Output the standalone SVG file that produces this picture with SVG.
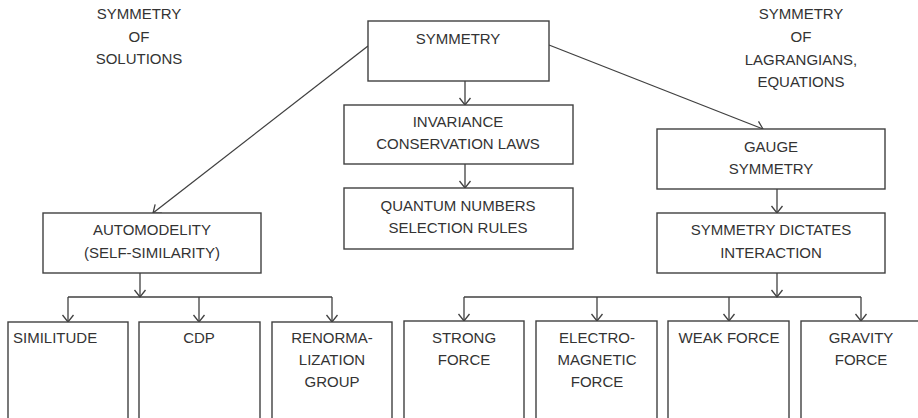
<svg xmlns="http://www.w3.org/2000/svg" width="918" height="418" viewBox="0 0 918 418">
<defs>
<marker id="arr" markerUnits="userSpaceOnUse" markerWidth="16" markerHeight="16" viewBox="-10 -8 12 16" refX="0" refY="0" orient="auto">
<path d="M-7,-5.5 L0,0 L-7,5.5" fill="none" stroke="#404040" stroke-width="1.3"/>
</marker>
</defs>
<style>
.box{fill:#fff;stroke:#404040;stroke-width:1.4}
.t{font-family:"Liberation Sans",Arial,sans-serif;font-size:15px;fill:#333;text-anchor:middle}
.l{text-anchor:start}
.c{fill:none;stroke:#404040;stroke-width:1.3}
.a{marker-end:url(#arr)}
</style>
<rect width="918" height="418" fill="#fff"/>
<g id="label-solutions">
<text class="t" x="139" y="19">SYMMETRY</text>
<text class="t" x="139" y="42">OF</text>
<text class="t" x="139" y="64">SOLUTIONS</text>
</g>
<g id="label-lagrangians">
<text class="t" x="801" y="19">SYMMETRY</text>
<text class="t" x="801" y="42">OF</text>
<text class="t" x="801" y="65">LAGRANGIANS,</text>
<text class="t" x="801" y="87">EQUATIONS</text>
</g>
<g id="connectors">
<line class="c a" x1="368" y1="46" x2="153" y2="213"/>
<line class="c a" x1="549" y1="45" x2="763" y2="129"/>
<line class="c a" x1="465" y1="81" x2="465" y2="105"/>
<line class="c a" x1="465" y1="164" x2="465" y2="188"/>
<line class="c a" x1="777" y1="189" x2="777" y2="213"/>
<line class="c a" x1="777" y1="273" x2="777" y2="297"/>
<polyline class="c" points="464,297 861,297"/>
<line class="c a" x1="464" y1="297" x2="464" y2="321"/>
<line class="c a" x1="597" y1="297" x2="597" y2="321"/>
<line class="c a" x1="729" y1="297" x2="729" y2="321"/>
<line class="c a" x1="861" y1="297" x2="861" y2="321"/>
<line class="c a" x1="140" y1="273" x2="140" y2="297"/>
<polyline class="c" points="68,297 332,297"/>
<line class="c a" x1="68" y1="297" x2="68" y2="322"/>
<line class="c a" x1="199" y1="297" x2="199" y2="322"/>
<line class="c a" x1="332" y1="297" x2="332" y2="322"/>
</g>
<g id="symmetry">
<rect class="box" x="368" y="21" width="181" height="60"/>
<text class="t" x="458" y="44">SYMMETRY</text>
</g>
<g id="invariance">
<rect class="box" x="344" y="105" width="229" height="59"/>
<text class="t" x="458" y="127">INVARIANCE</text>
<text class="t" x="458" y="149">CONSERVATION LAWS</text>
</g>
<g id="quantum">
<rect class="box" x="344" y="188" width="229" height="61"/>
<text class="t" x="458" y="211">QUANTUM NUMBERS</text>
<text class="t" x="458" y="233">SELECTION RULES</text>
</g>
<g id="gauge">
<rect class="box" x="657" y="129" width="228" height="60"/>
<text class="t" x="771" y="152">GAUGE</text>
<text class="t" x="771" y="174">SYMMETRY</text>
</g>
<g id="dictates">
<rect class="box" x="657" y="213" width="228" height="60"/>
<text class="t" x="771" y="235">SYMMETRY DICTATES</text>
<text class="t" x="771" y="258">INTERACTION</text>
</g>
<g id="automodelity">
<rect class="box" x="43" y="213" width="218" height="60"/>
<text class="t" x="152" y="235">AUTOMODELITY</text>
<text class="t" x="152" y="258">(SELF-SIMILARITY)</text>
</g>
<g id="similitude">
<rect class="box" x="8" y="322" width="120" height="100"/>
<text class="t l" x="13" y="343">SIMILITUDE</text>
</g>
<g id="cdp">
<rect class="box" x="139" y="322" width="121" height="100"/>
<text class="t" x="199" y="343">CDP</text>
</g>
<g id="renorm">
<rect class="box" x="272" y="322" width="120" height="100"/>
<text class="t" x="332" y="343">RENORMA-</text>
<text class="t" x="332" y="365">LIZATION</text>
<text class="t" x="332" y="387">GROUP</text>
</g>
<g id="strong">
<rect class="box" x="404" y="321" width="120" height="100"/>
<text class="t" x="464" y="343">STRONG</text>
<text class="t" x="464" y="365">FORCE</text>
</g>
<g id="electro">
<rect class="box" x="536" y="321" width="121" height="100"/>
<text class="t" x="597" y="343">ELECTRO-</text>
<text class="t" x="597" y="365">MAGNETIC</text>
<text class="t" x="597" y="387">FORCE</text>
</g>
<g id="weak">
<rect class="box" x="668" y="321" width="121" height="100"/>
<text class="t" x="729" y="343">WEAK FORCE</text>
</g>
<g id="gravity">
<rect class="box" x="801" y="321" width="121" height="100"/>
<text class="t" x="861" y="343">GRAVITY</text>
<text class="t" x="861" y="365">FORCE</text>
</g>
</svg>
